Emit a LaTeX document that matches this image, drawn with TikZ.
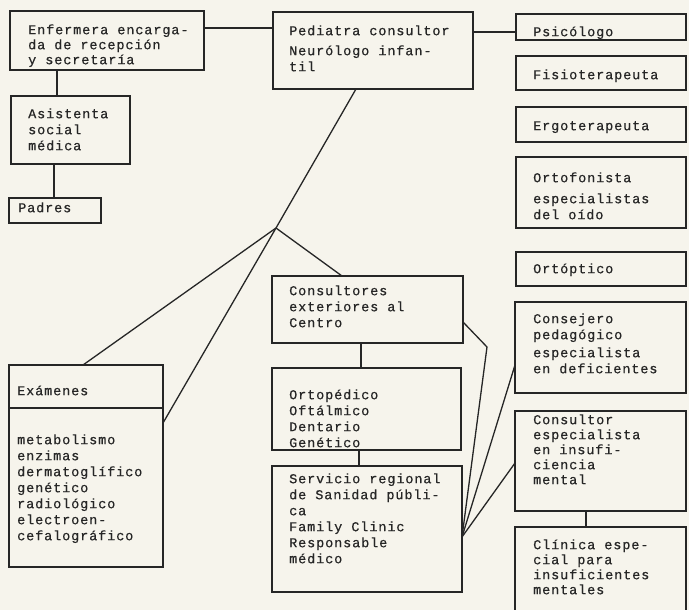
\documentclass[tikz,border=0pt]{standalone}
\usepackage{fontspec}
\newfontfamily\tw[LetterSpace=6.7,FakeBold=0.5]{Liberation Mono}
\definecolor{paper}{RGB}{246,244,236}
\definecolor{ink}{RGB}{38,38,38}
\newcommand\st{\rule{0pt}{12pt}}
\begin{document}
\begin{tikzpicture}[x=1pt,y=-1pt,
  box/.style={draw=ink, line width=1.6pt, inner sep=0pt, outer sep=0pt, anchor=north west},
  txt/.style={text=ink, inner sep=0pt, anchor=north west, align=left, font=\tw\fontsize{13.5}{16}\selectfont},
  tight/.style={font=\tw\fontsize{13.5}{15}\selectfont},
  conn/.style={draw=ink, line width=1.3pt}]
\fill[paper] (0,0) rectangle (689,610);
\path[use as bounding box] (0,0) rectangle (689,610);
% boxes
\node[box, minimum width=194pt, minimum height=59pt] (enf) at (10,11) {};
\node[box, minimum width=119pt, minimum height=68pt] (asis) at (11,96) {};
\node[box, minimum width=92pt, minimum height=25pt] (padres) at (9,198) {};
\node[box, minimum width=200pt, minimum height=77pt] (ped) at (273,12) {};
\node[box, minimum width=170pt, minimum height=26pt] (psi) at (516,14) {};
\node[box, minimum width=170pt, minimum height=34pt] (fis) at (516,56) {};
\node[box, minimum width=170pt, minimum height=35pt] (ergo) at (516,107) {};
\node[box, minimum width=170pt, minimum height=71pt] (ortof) at (516,157) {};
\node[box, minimum width=170pt, minimum height=34pt] (ortop) at (516,252) {};
\node[box, minimum width=171pt, minimum height=91pt] (cons) at (515,302) {};
\node[box, minimum width=171pt, minimum height=100pt] (consu) at (515,411) {};
\node[box, minimum width=171pt, minimum height=85pt] (clin) at (515,527) {};
\node[box, minimum width=154pt, minimum height=202pt] (exam) at (9,365) {};
\draw[draw=ink, line width=1.6pt] (exam.west |- 0,408) -- (exam.east |- 0,408);
\node[box, minimum width=191pt, minimum height=67pt] (cext) at (272,276) {};
\node[box, minimum width=189pt, minimum height=82pt] (ortp) at (272,368) {};
\node[box, minimum width=190pt, minimum height=126pt] (serv) at (272,466) {};
% texts (position = first baseline - 12)
\node[txt, tight] (enf-t) at (28,22) {\st Enfermera encarga-\\da de recepción\\y secretaría};
\node[txt] (asis-t) at (28,106) {\st Asistenta\\social\\médica};
\node[txt] (padres-t) at (18,200) {\st Padres};
\node[txt] (ped-t) at (289,23) {\st Pediatra consultor\\[4pt]Neurólogo infan-\\til};
\node[txt] (psi-t) at (533,24) {\st Psicólogo};
\node[txt] (fis-t) at (533,67) {\st Fisioterapeuta};
\node[txt] (ergo-t) at (533,118) {\st Ergoterapeuta};
\node[txt] (ortof-t) at (533,170) {\st Ortofonista\\[5pt]especialistas\\del oído};
\node[txt] (ortop-t) at (533,261) {\st Ortóptico};
\node[txt] (cons-t) at (533,311) {\st Consejero\\pedagógico\\[2pt]especialista\\en deficientes};
\node[txt, tight] (consu-t) at (533,412) {\st Consultor\\especialista\\en insufi-\\ciencia\\mental};
\node[txt, tight] (clin-t) at (533,537) {\st Clínica espe-\\cial para\\insuficientes\\mentales};
\node[txt] (exam-h) at (17,383) {\st Exámenes};
\node[txt] (exam-t) at (17,432) {\st metabolismo\\enzimas\\dermatoglífico\\genético\\radiológico\\electroen-\\cefalográfico};
\node[txt] (cext-t) at (289,283) {\st Consultores\\exteriores al\\Centro};
\node[txt] (ortp-t) at (289,387) {\st Ortopédico\\Oftálmico\\Dentario\\Genético};
\node[txt] (serv-t) at (289,471) {\st Servicio regional\\de Sanidad públi-\\ca\\Family Clinic\\Responsable\\médico};
% connectors
\coordinate (J) at (276,228);
\coordinate (K) at (487,347);
\coordinate (S) at (serv.east |- 0,537);
\draw[conn] (enf.east |- 0,28) -- (ped.west |- 0,28);
\draw[conn] (ped.east |- 0,32) -- (psi.west |- 0,32);
\draw[conn] (enf.south -| 57,0) -- (asis.north -| 57,0);
\draw[conn] (asis.south -| 54,0) -- (padres.north -| 54,0);
\draw[conn] (ped.south -| 356,0) -- (J) -- (exam.east |- 0,423);
\draw[conn] (J) -- (exam.north -| 83,0);
\draw[conn] (J) -- (cext.north -| 342,0);
\draw[conn] (cext.south -| 361,0) -- (ortp.north -| 361,0);
\draw[conn] (ortp.south -| 359,0) -- (serv.north -| 359,0);
\draw[conn] (cext.east |- 0,322) -- (K) -- (S);
\draw[conn] (S) -- (cons.west |- 0,365);
\draw[conn] (S) -- (consu.west |- 0,463);
\draw[conn] (consu.south -| 586,0) -- (clin.north -| 586,0);
\end{tikzpicture}
\end{document}
